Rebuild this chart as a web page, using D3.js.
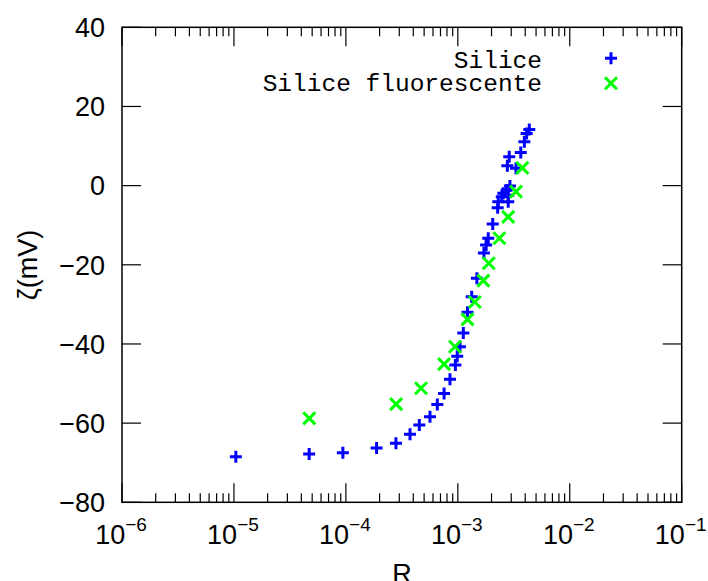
<!DOCTYPE html>
<html>
<head>
<meta charset="utf-8">
<script src="https://cdn.jsdelivr.net/npm/d3@7"></script>
<style>
  html, body { margin: 0; padding: 0; background: #fff; }
  svg { display: block; }
</style>
</head>
<body>
<svg id="chart" width="708" height="581"></svg>
<script>
// ---- data ----
const xTickExps = [-6, -5, -4, -3, -2, -1];
const yTickValues = [-80, -60, -40, -20, 0, 20, 40];
const seriesNames = ["Silice", "Silice fluorescente"];
const siliceR = [1.04e-5, 4.7e-5, 9.4e-5, 1.88e-4, 2.8e-4, 3.74e-4, 4.53e-4, 5.64e-4, 6.56e-4, 7.54e-4,
  8.51e-4, 9.51e-4, 9.88e-4, 1.045e-3, 1.12e-3, 1.22e-3, 1.33e-3, 1.48e-3, 1.71e-3, 1.79e-3,
  1.87e-3, 2.05e-3, 2.27e-3, 2.30e-3, 2.47e-3, 2.55e-3, 2.73e-3, 2.82e-3, 2.82e-3, 2.92e-3,
  2.77e-3, 2.88e-3, 3.31e-3, 3.65e-3, 3.93e-3, 4.12e-3, 4.35e-3];
const siliceZeta = [-68.5, -67.8, -67.5, -66.3, -65.1, -62.8, -60.5, -58.4, -55.3, -52.5,
  -48.9, -45.3, -43.1, -40.7, -37.2, -32.0, -28.1, -23.4, -17.0, -15.0,
  -13.3, -9.7, -5.6, -4.1, -2.8, -1.9, -1.1, -2.4, -4.1, -0.1,
  5.0, 7.3, 4.4, 8.4, 11.1, 13.2, 14.2];
const fluoR = [4.71e-5, 2.81e-4, 4.69e-4, 7.54e-4, 9.44e-4, 1.22e-3, 1.42e-3, 1.69e-3, 1.89e-3, 2.35e-3,
  2.82e-3, 3.31e-3, 3.77e-3];
const fluoZeta = [-58.8, -55.2, -51.2, -45.1, -40.7, -33.8, -29.4, -24.0, -19.6, -13.3,
  -7.9, -1.5, 4.5];

// ---- layout ----
const L = 122, R = 681.7, T = 27.3, B = 502.3;
const svg = d3.select("#chart");
const x = d3.scaleLog().domain([1e-6, 1e-1]).range([L, R]);
const y = d3.scaleLinear().domain([-80, 40]).range([B, T]);

const blue = "#0000ff", green = "#00ff00";
const sansFont = "'Liberation Sans', Arial, Helvetica, sans-serif";
const monoFont = "'Liberation Mono', 'Courier New', monospace";

// ticks
const majorLen = 19, minorLen = 9;
const tickG = svg.append("g").attr("stroke", "#000").attr("stroke-width", 1.2);
const minorVals = [];
xTickExps.slice(0, -1).forEach(e => { for (let k = 2; k <= 9; k++) minorVals.push(k * Math.pow(10, e)); });
xTickExps.forEach(e => {
  const xv = x(Math.pow(10, e));
  tickG.append("line").attr("x1", xv).attr("x2", xv).attr("y1", B).attr("y2", B - majorLen);
  tickG.append("line").attr("x1", xv).attr("x2", xv).attr("y1", T).attr("y2", T + majorLen);
});
minorVals.forEach(v => {
  const xv = x(v);
  tickG.append("line").attr("x1", xv).attr("x2", xv).attr("y1", B).attr("y2", B - minorLen);
  tickG.append("line").attr("x1", xv).attr("x2", xv).attr("y1", T).attr("y2", T + minorLen);
});
yTickValues.forEach(v => {
  const yv = y(v);
  tickG.append("line").attr("x1", L).attr("x2", L + majorLen).attr("y1", yv).attr("y2", yv);
  tickG.append("line").attr("x1", R).attr("x2", R - majorLen).attr("y1", yv).attr("y2", yv);
});

// frame
svg.append("rect").attr("x", L).attr("y", T).attr("width", R - L).attr("height", B - T)
  .attr("fill", "none").attr("stroke", "#000").attr("stroke-width", 1.5);

// y tick labels
svg.append("g").selectAll("text").data(yTickValues).join("text")
  .attr("x", 105).attr("y", d => y(d) + 9.7)
  .attr("text-anchor", "end")
  .attr("font-family", sansFont).attr("font-size", 27)
  .text(d => d < 0 ? "\u2212" + Math.abs(d) : String(d));

// x tick labels
xTickExps.forEach(e => {
  const t = svg.append("text")
    .attr("x", x(Math.pow(10, e)) - 1).attr("y", 543.5)
    .attr("text-anchor", "middle")
    .attr("font-family", sansFont).attr("font-size", 27);
  t.append("tspan").text("10");
  t.append("tspan").attr("font-size", 19).attr("dy", -13).text("\u2212" + Math.abs(e));
});

// axis titles
svg.append("text").attr("x", 402).attr("y", 583).attr("text-anchor", "middle")
  .attr("font-family", sansFont).attr("font-size", 27).text("R");
svg.append("text").attr("transform", "translate(37,265) rotate(-90)")
  .attr("text-anchor", "middle")
  .attr("font-family", sansFont).attr("font-size", 27).text("\u03B6(mV)");

// markers
const hs = 6;
function plusPath(cx, cy) { return `M${cx - hs},${cy}H${cx + hs}M${cx},${cy - hs}V${cy + hs}`; }
function crossPath(cx, cy) { return `M${cx - hs},${cy - hs}L${cx + hs},${cy + hs}M${cx - hs},${cy + hs}L${cx + hs},${cy - hs}`; }

const silice = siliceR.map((r, i) => ({ r, z: siliceZeta[i] }));
const fluo = fluoR.map((r, i) => ({ r, z: fluoZeta[i] }));

svg.append("g").selectAll("path").data(silice).join("path")
  .attr("d", d => plusPath(x(d.r), y(d.z)))
  .attr("stroke", blue).attr("stroke-width", 3).attr("fill", "none");
svg.append("g").selectAll("path").data(fluo).join("path")
  .attr("d", d => crossPath(x(d.r), y(d.z)))
  .attr("stroke", green).attr("stroke-width", 3).attr("fill", "none");

// legend
const legY = [67.5, 90.5];
const leg = svg.append("g");
seriesNames.forEach((name, i) => {
  leg.append("text").attr("x", 542).attr("y", legY[i]).attr("text-anchor", "end")
    .attr("font-family", monoFont).attr("font-size", 24.5).attr("fill", "#000").text(name);
});
leg.append("path").attr("d", plusPath(611, 58.3)).attr("stroke", blue).attr("stroke-width", 3).attr("fill", "none");
leg.append("path").attr("d", crossPath(611, 83.3)).attr("stroke", green).attr("stroke-width", 3).attr("fill", "none");
</script>
</body>
</html>
